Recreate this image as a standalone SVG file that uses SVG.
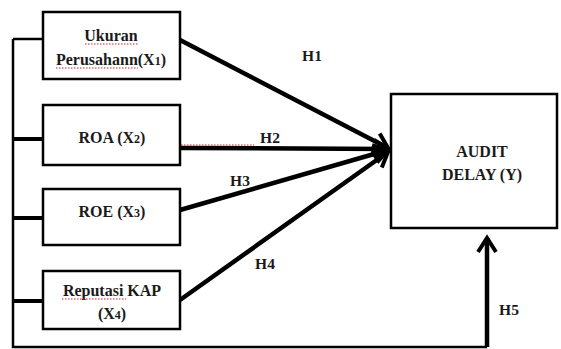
<svg xmlns="http://www.w3.org/2000/svg" width="561" height="349" viewBox="0 0 561 349">
<style>
.box{fill:#fff;stroke:#000;stroke-width:2.5}
.t{font-family:'Liberation Serif','DejaVu Serif',serif;font-weight:bold;font-size:16px;fill:#1a1a1a;text-anchor:middle}
.lbl{font-family:'Liberation Serif','DejaVu Serif',serif;font-weight:bold;font-size:15.5px;fill:#1a1a1a;text-anchor:middle}
.sub{font-size:12px}
.ln{fill:none;stroke:#000;stroke-linecap:butt}
.arr{fill:none;stroke:#000;stroke-width:4.5;marker-end:url(#chev)}
.sq{fill:none;stroke:#d02020;stroke-width:1;stroke-dasharray:1.5 1.5}
</style>
<defs>
<marker id="chev" markerUnits="userSpaceOnUse" markerWidth="24" markerHeight="24" viewBox="-20 -12 24 24" refX="0" refY="0" orient="auto">
<path d="M-14,-9 L0,0 L-14,9" fill="none" stroke="#000" stroke-width="4"/>
</marker>
</defs>
<g id="connectors">
<path class="ln" d="M13,39 L13,347 L487,347" stroke-width="2.5"/>
<path class="ln" d="M13,39 L43,39" stroke-width="2.5"/>
<path class="ln" d="M13,139 L43,139" stroke-width="4"/>
<path class="ln" d="M13,218 L43,218" stroke-width="4"/>
<path class="ln" d="M13,301 L43,301" stroke-width="4"/>
<line class="arr" x1="180" y1="40" x2="388" y2="148"/>
<line class="arr" x1="180" y1="148" x2="388" y2="149"/>
<line class="arr" x1="180" y1="210" x2="388" y2="150"/>
<line class="arr" x1="180" y1="300" x2="388" y2="152"/>
<line class="arr" x1="487" y1="347" x2="487" y2="238"/>
<path class="sq" d="M181,145 L254,145"/>
<text class="lbl" x="312" y="61">H1</text>
<text class="lbl" x="270" y="143">H2</text>
<text class="lbl" x="240" y="186">H3</text>
<text class="lbl" x="265" y="269">H4</text>
<text class="lbl" x="509" y="315">H5</text>
</g>
<g id="x1">
<rect class="box" x="43" y="12" width="137" height="67"/>
<text class="t" x="111" y="41">Ukuran</text>
<text class="t" x="111" y="65">Perusahann(X<tspan class="sub">1</tspan>)</text>
<path class="sq" d="M85,44 L138,44 M56,68 L138,68"/>
</g>
<g id="x2">
<rect class="box" x="43" y="105" width="137" height="60"/>
<text class="t" x="112" y="143">ROA (X<tspan class="sub">2</tspan>)</text>
</g>
<g id="x3">
<rect class="box" x="43" y="189" width="137" height="56"/>
<text class="t" x="112" y="217">ROE (X<tspan class="sub">3</tspan>)</text>
</g>
<g id="x4">
<rect class="box" x="43" y="271" width="137" height="58"/>
<text class="t" x="112" y="296">Reputasi KAP</text>
<text class="t" x="112" y="319">(X<tspan class="sub">4</tspan>)</text>
<path class="sq" d="M62,299 L126,299"/>
</g>
<g id="y">
<rect class="box" x="391" y="94" width="166" height="134"/>
<text class="t" x="482" y="157">AUDIT</text>
<text class="t" x="482" y="180">DELAY (Y)</text>
</g>
</svg>
